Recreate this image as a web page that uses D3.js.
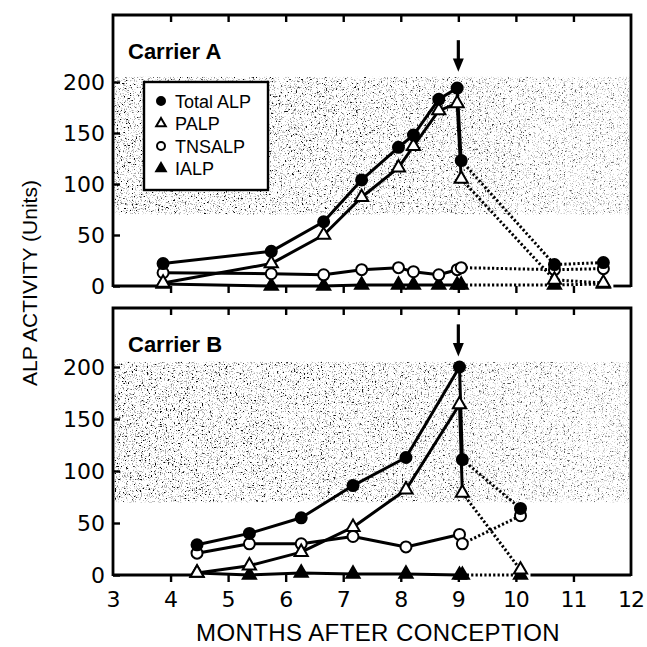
<!DOCTYPE html>
<html>
<head>
<meta charset="utf-8">
<script src="https://cdn.jsdelivr.net/npm/d3@7"></script>
<style>
  body { margin: 0; background: #fff; }
  svg { display: block; }
</style>
</head>
<body>
<svg id="chart" width="647" height="647"></svg>
<script>
// months of each sampling, Carrier A (top) and Carrier B (bottom)
const monthsA = [3.87, 5.75, 6.66, 7.32, 7.96, 8.22, 8.66, 8.98, 9.05, 10.67, 11.52];
const totalA  = [22, 34, 63, 104, 136, 148, 183, 194, 123, 21, 23];
const palpA   = [3, 22, 50, 87, 116, 137, 172, 179, 105, 6, 3];
const tnsalpA = [13, 12, 11, 16, 18, 14, 11, 16, 18, 16, 17];
const ialpA   = [2, 0, 0, 1, 1, 1, 1, 1, 1, 1, 2];

const monthsB = [4.46, 5.37, 6.27, 7.17, 8.09, 9.02, 9.07, 10.08];
const totalB  = [29, 40, 55, 86, 113, 200, 111, 64];
const palpB   = [2, 9, 22, 46, 82, 164, 79, 5];
const tnsalpB = [21, 30, 30, 37, 27, 39, 30, 57];
const ialpB   = [2, 0, 2, 1, 1, 0, 0, 0];

const seriesNames = ["Total ALP", "PALP", "TNSALP", "IALP"];
const yTicks = [0, 50, 100, 150, 200];
const xTicks = [3, 4, 5, 6, 7, 8, 9, 10, 11, 12];
const normalRange = [70, 205];   // shaded band
const deliveryMonth = 9;

const svg = d3.select("#chart");
const x = d3.scaleLinear().domain([3, 12]).range([113, 631]);

// speckled texture for the shaded band: fine grey dots + sparse black specks
const defs = svg.append("defs");
function speckFilter(id, freq, seed, slope, offset, tone) {
    const f = defs.append("filter").attr("id", id)
        .attr("x", 0).attr("y", 0).attr("width", 1).attr("height", 1);
    f.append("feTurbulence").attr("type", "fractalNoise")
        .attr("baseFrequency", freq).attr("numOctaves", 2).attr("seed", seed);
    f.append("feColorMatrix").attr("type", "matrix")
        .attr("values", `0 0 0 0 ${tone}  0 0 0 0 ${tone}  0 0 0 0 ${tone}  ${slope} 0 0 0 ${offset}`);
}
speckFilter("speckFine", 0.87, 3, 9, -5.2, 0.4);
speckFilter("speckBig", 0.53, 17, 12, -8.0, 0);

const grad = defs.append("linearGradient").attr("id", "fadeGrad");
grad.append("stop").attr("offset", 0).attr("stop-color", "#fff");
grad.append("stop").attr("offset", 0.55).attr("stop-color", "#ddd");
grad.append("stop").attr("offset", 1).attr("stop-color", "#888");
defs.append("mask").attr("id", "fade").attr("maskContentUnits", "objectBoundingBox")
    .append("rect").attr("width", 1).attr("height", 1).attr("fill", "url(#fadeGrad)");

const panels = [
    { label: "Carrier A", top: 15, y0: 286, y200: 82, months: monthsA, solidEnd: 8,
      data: [totalA, palpA, tnsalpA, ialpA], legend: true },
    { label: "Carrier B", top: 308, y0: 575, y200: 367, months: monthsB, solidEnd: 6,
      data: [totalB, palpB, tnsalpB, ialpB], legend: false, xLabels: true }
];

function marker(sel, kind, size) {
    if (kind === "Total ALP" || kind === "TNSALP") {
        sel.append("circle").attr("r", size)
            .attr("fill", kind === "Total ALP" ? "#000" : "#fff")
            .attr("stroke", "#000").attr("stroke-width", 2);
    } else {
        const s = size * 2.4;
        sel.append("path")
            .attr("d", d3.symbol(d3.symbolTriangle, s * s * 0.433)())
            .attr("fill", kind === "IALP" ? "#000" : "#fff")
            .attr("stroke", "#000").attr("stroke-width", 2)
            .attr("stroke-linejoin", "miter");
    }
}

panels.forEach(p => {
    const y = d3.scaleLinear().domain([0, 200]).range([p.y0, p.y200]);
    const g = svg.append("g");

    const band = g.append("g").attr("mask", "url(#fade)");
    ["speckFine", "speckBig"].forEach(fid => {
        band.append("rect")
            .attr("x", x(3)).attr("width", x(12) - x(3))
            .attr("y", y(normalRange[1])).attr("height", y(normalRange[0]) - y(normalRange[1]))
            .attr("filter", `url(#${fid})`);
    });

    // frame
    const fr = g.append("g").attr("stroke", "#000").attr("stroke-width", 2.8).attr("fill", "none");
    const first = d3.min(p.months), last = d3.max(p.months);
    fr.append("path").attr("d",
        `M${x(3)},${p.y0 + 1}V${p.top}H${x(12)}V${p.y0 + 1}`);
    fr.append("path").attr("d", `M${x(3)},${p.y0}H${x(first)}`);
    fr.append("path").attr("d", `M${x(last) + 10},${p.y0}H${x(12)}`);

    const yAx = g.append("g").attr("transform", `translate(${x(3)},0)`)
        .call(d3.axisLeft(y).tickValues(yTicks).tickSize(-7).tickPadding(8));
    const xTop = g.append("g").attr("transform", `translate(0,${p.top})`)
        .call(d3.axisTop(x).tickValues(xTicks.slice(1, -1)).tickSize(-7).tickFormat(""));
    const xBot = g.append("g").attr("transform", `translate(0,${p.y0})`)
        .call(d3.axisBottom(x).tickValues(xTicks.slice(1, -1)).tickSize(7).tickFormat(""));
    [yAx, xTop, xBot].forEach(a => {
        a.select(".domain").remove();
        a.selectAll(".tick line").attr("stroke", "#000").attr("stroke-width", 2.4);
    });
    yAx.selectAll("text").attr("fill", "#000")
        .style("font", "22px 'DejaVu Sans', sans-serif");

    if (p.xLabels) {
        g.selectAll(".xl").data(xTicks).join("text")
            .attr("x", d => x(d)).attr("y", p.y0 + 32)
            .attr("text-anchor", "middle")
            .style("font", "22px 'DejaVu Sans', sans-serif")
            .style("letter-spacing", "-1px")
            .text(d => d);
    }

    g.append("text").attr("x", 128).attr("y", p.top + 44)
        .style("font", "bold 22px 'Liberation Sans', Arial, sans-serif")
        .text(p.label);

    // delivery arrow
    const ax = x(deliveryMonth);
    g.append("line").attr("x1", ax).attr("x2", ax)
        .attr("y1", y(241)).attr("y2", y(220))
        .attr("stroke", "#000").attr("stroke-width", 3.2);
    g.append("path")
        .attr("d", `M${ax - 5.5},${y(223)}L${ax + 5.5},${y(223)}L${ax},${y(210)}Z`)
        .attr("fill", "#000");

    // lines
    const line = d3.line().x(d => x(d.m)).y(d => y(d.v));
    const seriesPts = p.data.map(vals => vals.map((v, i) => ({ m: p.months[i], v })));
    seriesPts.slice().reverse().forEach(pts => {
        g.append("path").attr("d", line(pts.slice(0, p.solidEnd + 1)))
            .attr("fill", "none").attr("stroke", "#000").attr("stroke-width", 3)
            .attr("stroke-linejoin", "round");
        g.append("path").attr("d", line(pts.slice(p.solidEnd)))
            .attr("fill", "none").attr("stroke", "#000").attr("stroke-width", 3)
            .attr("stroke-dasharray", "2.2,2.2");
    });

    // markers
    [3, 2, 1, 0].forEach(si => {
        seriesPts[si].forEach(d => {
            const mg = g.append("g").attr("transform", `translate(${x(d.m)},${y(d.v)})`);
            marker(mg, seriesNames[si], 5.5);
        });
    });

    if (p.legend) {
        const lg = g.append("g");
        lg.append("rect").attr("x", 144).attr("y", 82).attr("width", 124).attr("height", 108)
            .attr("fill", "#fff").attr("stroke", "#000").attr("stroke-width", 2.4);
        seriesNames.forEach((n, i) => {
            const cy = 101 + i * 22.5;
            const mg = lg.append("g").attr("transform", `translate(161,${cy})`);
            marker(mg, n, 4);
            lg.append("text").attr("x", 175).attr("y", cy + 6.5)
                .style("font", "18px 'Liberation Sans', Arial, sans-serif")
                .text(n);
        });
    }
});

svg.append("text")
    .attr("transform", "translate(37,283) rotate(-90)")
    .attr("text-anchor", "middle")
    .style("font", "21px 'Liberation Sans', Arial, sans-serif")
    .text("ALP ACTIVITY (Units)");

svg.append("text")
    .attr("x", 378).attr("y", 641)
    .attr("text-anchor", "middle")
    .style("font", "24px 'Liberation Sans', Arial, sans-serif")
    .style("letter-spacing", "0.4px")
    .text("MONTHS AFTER CONCEPTION");
</script>
</body>
</html>
